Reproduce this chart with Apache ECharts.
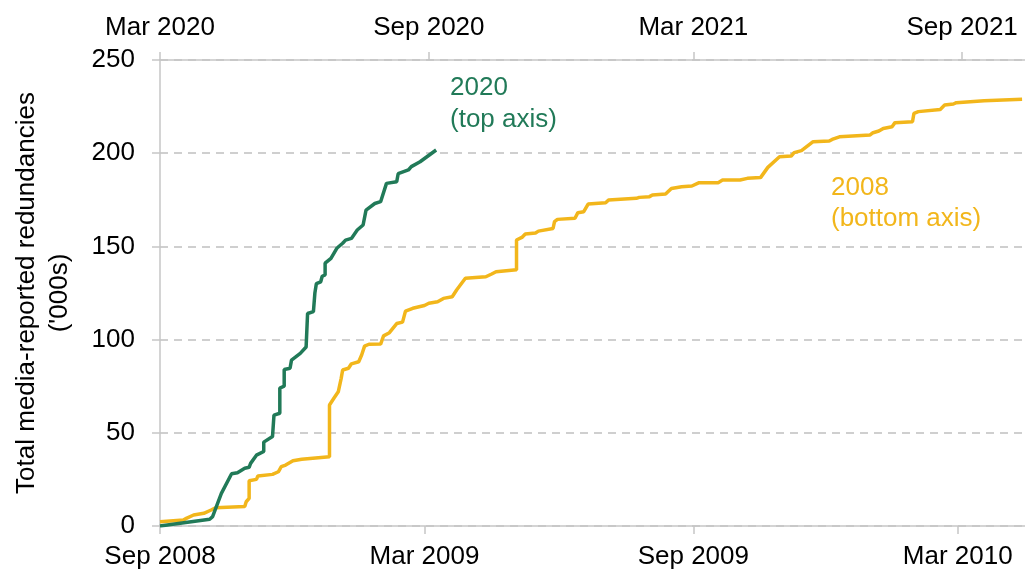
<!DOCTYPE html>
<html>
<head>
<meta charset="utf-8">
<script src="https://cdn.jsdelivr.net/npm/echarts@6/dist/echarts.min.js"></script>
<style>
  html, body { margin: 0; padding: 0; background: #fff; }
  #chart { width: 1025px; height: 570px; }
</style>
</head>
<body>
<div id="chart"></div>
<script>
// 2008 recession: cumulative redundancies ('000s), bottom axis
const start2008 = "2008-09-01";
const dates2008 = [
  "2008-09-01", "2008-09-17", "2008-09-19", "2008-09-24", "2008-10-01", "2008-10-06", "2008-10-09",
  "2008-10-29", "2008-10-30", "2008-11-01", "2008-11-01", "2008-11-06", "2008-11-07", "2008-11-17",
  "2008-11-21", "2008-11-23", "2008-11-26", "2008-12-01", "2008-12-07", "2008-12-26", "2008-12-26",
  "2008-12-29", "2009-01-01", "2009-01-03", "2009-01-04", "2009-01-08", "2009-01-10", "2009-01-15",
  "2009-01-17", "2009-01-19", "2009-01-22", "2009-01-30", "2009-02-01", "2009-02-05", "2009-02-10",
  "2009-02-14", "2009-02-16", "2009-02-21", "2009-03-01", "2009-03-04", "2009-03-10", "2009-03-14",
  "2009-03-20", "2009-03-23", "2009-03-29", "2009-04-12", "2009-04-16", "2009-04-19", "2009-05-03",
  "2009-05-03", "2009-05-07", "2009-05-09", "2009-05-16", "2009-05-18", "2009-05-28", "2009-05-29",
  "2009-05-31", "2009-06-12", "2009-06-14", "2009-06-18", "2009-06-21", "2009-07-03", "2009-07-05",
  "2009-07-24", "2009-07-26", "2009-08-02", "2009-08-04", "2009-08-13", "2009-08-17", "2009-08-24",
  "2009-08-31", "2009-09-05", "2009-09-18", "2009-09-21", "2009-10-03", "2009-10-08", "2009-10-17",
  "2009-10-22", "2009-10-30", "2009-11-07", "2009-11-09", "2009-11-14", "2009-11-22", "2009-12-03",
  "2009-12-05", "2009-12-10", "2009-12-31", "2010-01-02", "2010-01-06", "2010-01-09", "2010-01-15",
  "2010-01-17", "2010-01-29", "2010-01-30", "2010-02-02", "2010-02-17", "2010-02-20", "2010-02-26",
  "2010-02-28", "2010-03-19", "2010-04-14"
];
const values2008 = [
  2.3, 3.2, 4.1, 5.9, 6.8, 8.6, 9.8,
  10.4, 13, 14.8, 24.3, 25, 26.8, 27.7,
  29.1, 31.8, 32.7, 35, 35.8, 37.2, 64.9,
  68.5, 72, 79.2, 83.7, 84.6, 87, 88.1,
  91.7, 96.5, 97.5, 97.6, 102, 103.7, 108.6,
  109.4, 115.3, 116.8, 118.3, 119.5, 120.3, 122.1,
  123, 126.6, 132.9, 133.7, 135.2, 136.4, 137.5,
  153.4, 155, 156.6, 157.2, 158.2, 159.6, 163.3,
  164.5, 165.1, 168.1, 168.6, 172.7, 173.4, 174.9,
  175.8, 176.3, 176.7, 177.6, 178.1, 181.1, 182,
  182.4, 184.2, 184.2, 185.6, 185.6, 186.5, 186.9,
  192.4, 198.1, 198.5, 200.3, 201.4, 206.2, 206.5,
  207.4, 208.8, 209.8, 211, 211.9, 213.3, 214.2,
  216.4, 216.9, 221.4, 222.3, 223.5, 225.8, 226.4,
  227.1, 228.2, 229
];

// 2020: cumulative redundancies ('000s), top axis
const start2020 = "2020-03-01";
const dates2020 = [
  "2020-03-01", "2020-04-04", "2020-04-06", "2020-04-12", "2020-04-19", "2020-04-23", "2020-04-28",
  "2020-05-01", "2020-05-02", "2020-05-06", "2020-05-11", "2020-05-11", "2020-05-17", "2020-05-18",
  "2020-05-22", "2020-05-22", "2020-05-25", "2020-05-25", "2020-05-29", "2020-05-30", "2020-06-05",
  "2020-06-09", "2020-06-10", "2020-06-14", "2020-06-15", "2020-06-16", "2020-06-19", "2020-06-20",
  "2020-06-22", "2020-06-22", "2020-06-26", "2020-06-30", "2020-07-04", "2020-07-06", "2020-07-10",
  "2020-07-14", "2020-07-18", "2020-07-20", "2020-07-26", "2020-07-30", "2020-08-03", "2020-08-10",
  "2020-08-11", "2020-08-18", "2020-08-20", "2020-08-26", "2020-09-06"
];
const values2020 = [
  0, 3.6, 5, 17.5, 28, 28.6, 31,
  31.5, 33.6, 38, 40, 45, 48, 59.5,
  60.5, 74, 75, 84, 84.6, 89, 92.6,
  96, 114, 115, 125, 130, 131, 134,
  134.7, 141, 143.6, 149, 151.7, 153.4, 154.3,
  158.8, 161.5, 169.5, 173, 174, 183.8, 184.7,
  189, 191, 192.8, 195.4, 201.7
];

// tick labels
const bottomTickDates = ["2008-09-01", "2009-03-01", "2009-09-01", "2010-03-01"];
const bottomTickLabels = ["Sep 2008", "Mar 2009", "Sep 2009", "Mar 2010"];
const topTickDates = ["2020-03-01", "2020-09-01", "2021-03-01", "2021-09-01"];
const topTickLabels = ["Mar 2020", "Sep 2020", "Mar 2021", "Sep 2021"];
const spanDays = 592;

const green = "#217a58";
const yellow = "#f2b61b";
const gray = "#c6c6c6";
const font = "'Liberation Sans', Arial, sans-serif";

// days since the axis start
function dayOf(d, s) {
  return (Date.parse(d) - Date.parse(s)) / 86400000;
}

const bottomTicks = bottomTickDates.map(d => dayOf(d, start2008));
const topTicks = topTickDates.map(d => dayOf(d, start2020));

function xAxisFor(pos, ticks, labels, margin) {
  return {
    type: "value",
    position: pos,
    min: 0,
    max: spanDays,
    axisLine: { show: true, onZero: false, lineStyle: { color: gray, width: 1.5 } },
    axisTick: { show: true, length: 8, customValues: ticks, lineStyle: { color: gray, width: 1.5 } },
    axisLabel: {
      customValues: ticks,
      margin: margin,
      color: "#000",
      fontSize: 26,
      fontFamily: font,
      formatter: v => {
        const i = ticks.findIndex(t => Math.abs(t - v) < 0.5);
        return i >= 0 ? labels[i] : "";
      },
    },
    splitLine: { show: false },
  };
}

const chart = echarts.init(document.getElementById("chart"));

chart.setOption({
  animation: false,
  grid: { left: 160, right: 0, top: 60, bottom: 44 },
  xAxis: [
    xAxisFor("bottom", bottomTicks, bottomTickLabels, 18),
    xAxisFor("top", topTicks, topTickLabels, 19),
  ],
  yAxis: {
    type: "value",
    min: 0,
    max: 250,
    interval: 50,
    axisLine: { show: true, lineStyle: { color: gray, width: 1.5 } },
    axisTick: { show: true, length: 8, lineStyle: { color: gray, width: 1.5 } },
    axisLabel: { margin: 25, color: "#000", fontSize: 26, fontFamily: font },
    splitLine: { lineStyle: { color: "#c0c0c0", width: 1.5, type: [8, 6] } },
  },
  graphic: [
    {
      type: "text",
      x: 43,
      y: 293,
      rotation: Math.PI / 2,
      style: {
        text: "Total media-reported redundancies\n('000s)",
        fill: "#000",
        font: "26px " + font,
        align: "center",
        verticalAlign: "middle",
        lineHeight: 33,
      },
    },
    {
      type: "text",
      left: 450,
      top: 72,
      style: { text: "2020\n(top axis)", fill: green, font: "26px " + font, lineHeight: 32 },
    },
    {
      type: "text",
      left: 831,
      top: 172,
      style: { text: "2008\n(bottom axis)", fill: yellow, font: "26px " + font, lineHeight: 31 },
    },
  ],
  series: [
    {
      name: "2008",
      type: "line",
      xAxisIndex: 0,
      showSymbol: false,
      lineStyle: { color: yellow, width: 3.5 },
      data: dates2008.map((d, i) => [dayOf(d, start2008), values2008[i]]),
    },
    {
      name: "2020",
      type: "line",
      xAxisIndex: 1,
      showSymbol: false,
      lineStyle: { color: green, width: 3.5 },
      data: dates2020.map((d, i) => [dayOf(d, start2020), values2020[i]]),
    },
  ],
});
</script>
</body>
</html>
